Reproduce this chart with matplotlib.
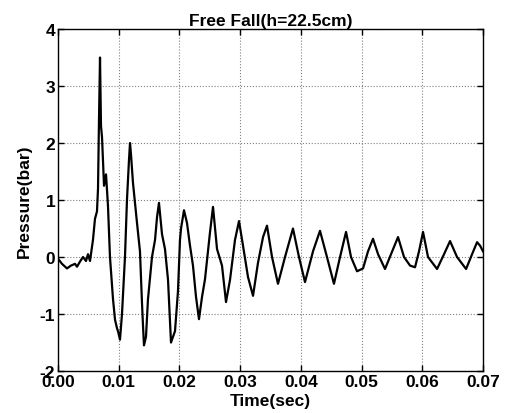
import matplotlib
matplotlib.use('Agg')
import matplotlib.pyplot as plt

# pressure trace (time in sec, pressure in bar)
time_sec = [0.0, 0.00066, 0.00148, 0.00214, 0.0028, 0.00313, 0.00362, 0.00412, 0.00461,
            0.00494, 0.00527, 0.00576, 0.00609, 0.00642, 0.00659, 0.00675, 0.00692, 0.00708,
            0.00725, 0.00758, 0.00791, 0.00823, 0.00856, 0.00906, 0.00939, 0.00972, 0.00988,
            0.01021, 0.01054, 0.01103, 0.01136, 0.01169, 0.01186, 0.01202, 0.01235, 0.01301,
            0.0135, 0.01383, 0.014, 0.01416, 0.01449, 0.01482, 0.01548, 0.01598, 0.01631,
            0.01663, 0.01713, 0.01762, 0.01812, 0.01861, 0.01894, 0.01927, 0.01976, 0.02009,
            0.02026, 0.02075, 0.02124, 0.02174, 0.02223, 0.02273, 0.02322, 0.02372, 0.02421,
            0.0247, 0.02503, 0.02553, 0.02619, 0.02701, 0.02767, 0.02833, 0.02915, 0.02981,
            0.03047, 0.03129, 0.03212, 0.03294, 0.03377, 0.03442, 0.03525, 0.03623, 0.03739,
            0.0387, 0.03969, 0.04068, 0.042, 0.04315, 0.0443, 0.04545, 0.04645, 0.04744,
            0.04826, 0.04925, 0.05024, 0.05106, 0.05188, 0.05271, 0.05386, 0.05485, 0.056,
            0.05699, 0.05798, 0.0588, 0.05946, 0.06012, 0.06094, 0.06243, 0.06358, 0.06457,
            0.06572, 0.06721, 0.0682, 0.06902, 0.06951, 0.07]
pressure_bar = [-0.03, -0.12, -0.2, -0.15, -0.12, -0.17, -0.08, 0.0, -0.07,
                0.05, -0.07, 0.3, 0.67, 0.8, 1.2, 2.4, 3.5, 2.3,
                2.1, 1.25, 1.45, 0.9, 0.0, -0.74, -1.1, -1.25, -1.3,
                -1.45, -1.0, 0.0, 1.0, 1.7, 2.0, 1.8, 1.3, 0.6,
                0.1, -0.8, -1.2, -1.55, -1.4, -0.74, 0.0, 0.3, 0.7,
                0.95, 0.4, 0.14, -0.4, -1.5, -1.4, -1.3, -0.6, 0.3,
                0.5, 0.82, 0.6, 0.2, -0.15, -0.7, -1.09, -0.7, -0.39,
                0.1, 0.43, 0.88, 0.14, -0.15, -0.79, -0.4, 0.3, 0.63,
                0.2, -0.35, -0.68, -0.1, 0.35, 0.55, 0.0, -0.47, 0.0,
                0.5, 0.0, -0.44, 0.1, 0.46, 0.0, -0.47, 0.0, 0.44,
                0.0, -0.25, -0.2, 0.1, 0.32, 0.05, -0.21, 0.05, 0.35,
                0.0, -0.15, -0.18, 0.1, 0.44, 0.0, -0.21, 0.05, 0.28,
                0.0, -0.21, 0.05, 0.26, 0.2, 0.1]

x_ticks = [0.0, 0.01, 0.02, 0.03, 0.04, 0.05, 0.06, 0.07]
y_ticks = [-2, -1, 0, 1, 2, 3, 4]

plt.rcParams['font.family'] = ['Liberation Sans', 'DejaVu Sans']
plt.rcParams['font.weight'] = 'bold'

fig = plt.figure(figsize=(5.07, 4.14), dpi=100)
ax = fig.add_axes([0.1144, 0.1014, 0.8383, 0.8261])

ax.plot(time_sec, pressure_bar, color='black', linewidth=1.6)

ax.set_xlim(0, 0.07)
ax.set_ylim(-2, 4)
ax.set_xticks(x_ticks)
ax.set_yticks(y_ticks)
ax.set_xticklabels(['%.2f' % t for t in x_ticks], fontsize=12.5, fontweight='bold')
ax.set_yticklabels([str(v) for v in y_ticks], fontsize=12.5, fontweight='bold')
ax.tick_params(direction='in', length=4, width=1, pad=2)
ax.tick_params(top=True, right=True)
ax.grid(True, linestyle=':', color='gray', linewidth=0.8)
for s in ax.spines.values():
    s.set_linewidth(1.0)

ax.set_title('Free Fall(h=22.5cm)', fontsize=12.5, fontweight='bold', pad=3)
ax.set_xlabel('Time(sec)', fontsize=12.5, fontweight='bold', labelpad=3)
ax.set_ylabel('Pressure(bar)', fontsize=12.5, fontweight='bold', labelpad=6)

fig.savefig('out.png', dpi=100)
